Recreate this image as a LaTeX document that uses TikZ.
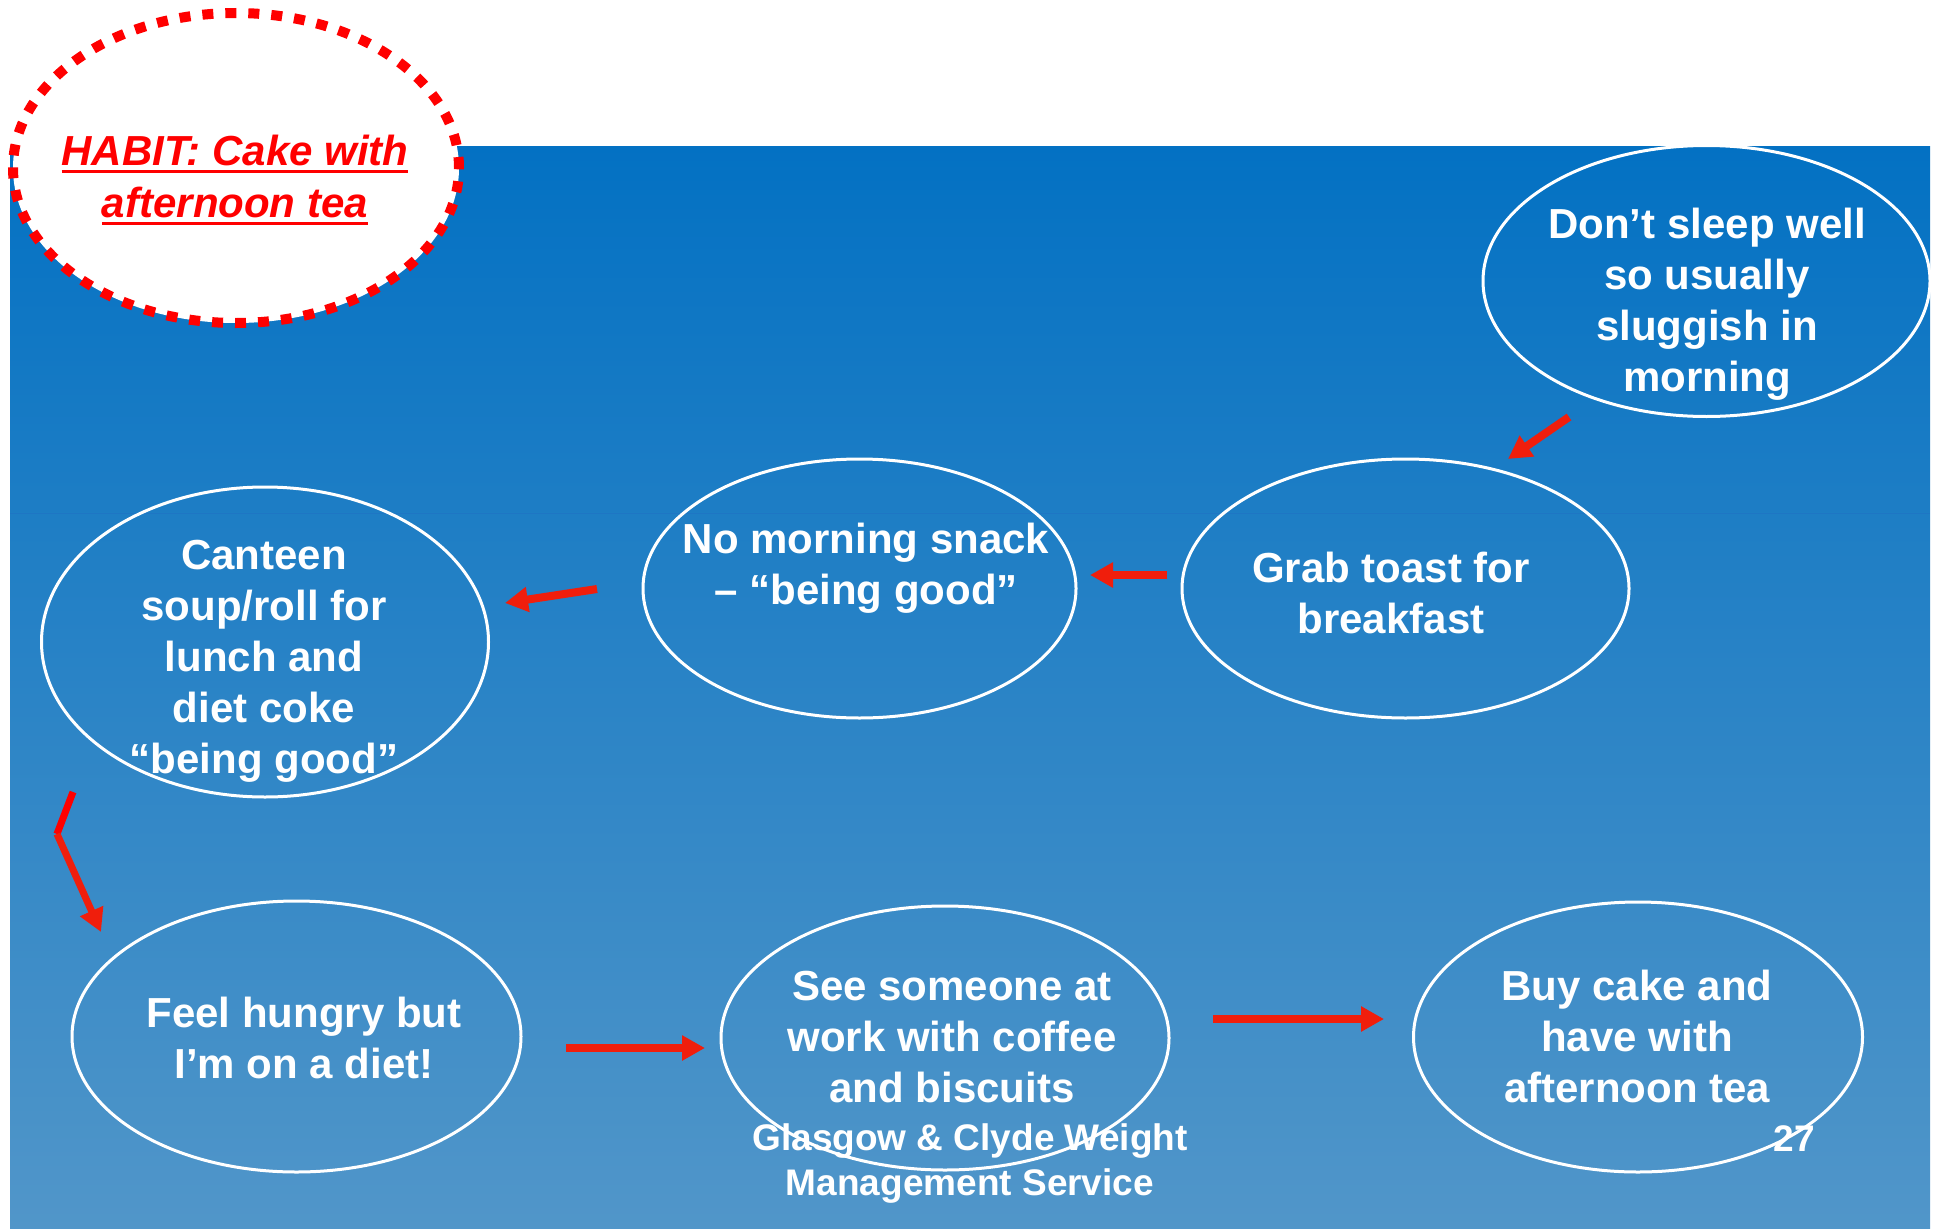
\documentclass[tikz,border=0pt]{standalone}
\usepackage{fontspec}
\setmainfont{Liberation Sans}
\usetikzlibrary{shapes.geometric,arrows.meta}
\definecolor{arrowred}{RGB}{240,30,12}
\definecolor{purered}{RGB}{255,0,0}
\definecolor{bgtop}{RGB}{3,113,195}
\definecolor{bgbot}{RGB}{81,150,201}
\definecolor{seamblue}{RGB}{30,118,196}
\newcommand{\habitul}[1]{\setbox0=\hbox{#1}\rlap{\rule[-7.5pt]{\wd0}{3pt}}\box0}
\begin{document}
\begin{tikzpicture}[x=1pt,y=-1pt,
  bubble/.style={ellipse,draw=white,line width=3pt,inner sep=0pt},
  btext/.style={text=white,align=center,inner sep=0pt,anchor=north,font=\bfseries\fontsize{42}{51}\selectfont},
  flow/.style={draw=arrowred,line width=8pt,-{Triangle[length=23pt,width=24pt]}}]
\useasboundingbox (0,0) rectangle (1934,1228);
\fill[white] (0,0) rectangle (1934,1228);
\shade[top color=bgtop,bottom color=bgbot] (10,146) rectangle (1930,1228);
\draw[seamblue,line width=1pt] (10,513) -- (1930,513);

% habit bubble
\node[ellipse,fill=white,draw=purered,line width=10pt,dash pattern=on 11pt off 12pt,
      minimum width=446pt,minimum height=310pt,inner sep=0pt] (habit) at (236,168) {};
\node[text=purered,align=center,inner sep=0pt,anchor=north,
      font=\bfseries\itshape\fontsize{42}{52}\selectfont] (habittext) at (235,128.6)
  {\strut\habitul{HABIT: Cake with}\\\strut\habitul{afternoon tea}};

% ellipses
\node[bubble,minimum width=447pt,minimum height=271pt] (sleep) at (1706.5,281) {};
\node[bubble,minimum width=447pt,minimum height=259pt] (toast) at (1405.5,588.5) {};
\node[bubble,minimum width=433pt,minimum height=259pt] (snack) at (859.5,588.5) {};
\node[bubble,minimum width=447pt,minimum height=310pt] (canteen) at (265,642) {};
\node[bubble,minimum width=449pt,minimum height=271pt] (hungry) at (296.5,1036.5) {};
\node[bubble,minimum width=448pt,minimum height=264pt] (see) at (945,1038) {};
\node[bubble,minimum width=449pt,minimum height=270pt] (buy) at (1638,1037) {};

% texts
\node[btext] (sleeptext) at (1707,202.3) {\strut Don’t sleep well\\\strut so usually\\\strut sluggish in\\\strut morning};
\node[btext] (toasttext) at (1391,546.3) {\strut Grab toast for\\\strut breakfast};
\node[btext] (snacktext) at (866,517.3) {\strut No morning snack\\\strut – “being good”};
\node[btext] (canteentext) at (264,533.3) {\strut Canteen\\\strut soup/roll for\\\strut lunch and\\\strut diet coke\\\strut “being good”};
\node[btext] (hungrytext) at (304,991.3) {\strut Feel hungry but\\\strut I’m on a diet!};
\node[btext] (seetext) at (952,964.3) {\strut See someone at\\\strut work with coffee\\\strut and biscuits};
\node[btext] (buytext) at (1637,964.3) {\strut Buy cake and\\\strut have with\\\strut afternoon tea};

% footer
\node[text=white,align=center,inner sep=0pt,anchor=north,font=\bfseries\fontsize{37}{45}\selectfont] (footer) at (970,1118.5)
  {\strut Glasgow \& Clyde Weight\\\strut Management Service};
\node[text=white,inner sep=0pt,anchor=base,font=\bfseries\fontsize{37}{45}\selectfont] (pagenum) at (1794,1151) {27};

% arrows
\coordinate (a1s) at (1569,417); \coordinate (a1e) at (1508,459);
\coordinate (a2s) at (1167,575); \coordinate (a2e) at (1090,575);
\coordinate (a3s) at (597,589);  \coordinate (a3e) at (505,603);
\coordinate (a4s) at (73,792);   \coordinate (a4b) at (57,834); \coordinate (a4e) at (101,932);
\coordinate (a5s) at (566,1048); \coordinate (a5e) at (705,1048);
\coordinate (a6s) at (1213,1019); \coordinate (a6e) at (1384,1019);
\draw[flow] (a1s) -- (a1e);
\draw[flow] (a2s) -- (a2e);
\draw[flow] (a3s) -- (a3e);
\draw[draw=purered,line width=7pt] (a4s) -- (a4b);
\draw[flow,line width=7pt] (a4b) -- (a4e);
\draw[flow] (a5s) -- (a5e);
\draw[flow] (a6s) -- (a6e);
\end{tikzpicture}
\end{document}
